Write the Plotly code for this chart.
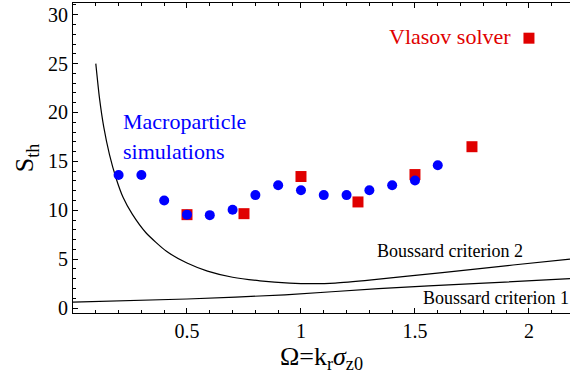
import plotly.graph_objects as go

# Macroparticle simulations (blue circles)
macro_x = [0.2, 0.3, 0.4, 0.5, 0.6, 0.7, 0.8, 0.9, 1.0, 1.1, 1.2, 1.3, 1.4, 1.5, 1.6]
macro_y = [13.6, 13.6, 11.0, 9.55, 9.5, 10.05, 11.55, 12.55, 12.05, 11.55, 11.55, 12.05, 12.55, 13.05, 14.6]

# Vlasov solver (red squares)
vlasov_x = [0.5, 0.75, 1.0, 1.25, 1.5, 1.75]
vlasov_y = [9.55, 9.65, 13.45, 10.85, 13.65, 16.5]

# legend marker for Vlasov solver
vlasov_key_x = [2.0]
vlasov_key_y = [27.6]

# Boussard criterion 2
crit2_x = [0.1, 0.116, 0.135, 0.16, 0.19, 0.22, 0.26, 0.32, 0.41, 0.50, 0.59, 0.70, 0.82, 0.95, 1.05, 1.15, 1.31, 1.62, 1.93, 2.18]
crit2_y = [25.0, 21.5, 18.5, 15.7, 13.2, 11.3, 9.6, 7.7, 5.8, 4.6, 3.78, 3.15, 2.78, 2.55, 2.49, 2.55, 2.88, 3.63, 4.4, 5.0]

# Boussard criterion 1
crit1_x = [0.0, 0.5, 0.93, 1.34, 1.78, 2.18]
crit1_y = [0.6, 0.92, 1.35, 1.98, 2.52, 3.0]

x_ticks = [0.5, 1, 1.5, 2]
x_tick_labels = ["0.5", "1", "1.5", "2"]
y_ticks = [0, 5, 10, 15, 20, 25, 30]

FONT = "Liberation Serif, Times New Roman, serif"
RED = "#e00000"
BLUE = "#0000ff"

fig = go.Figure()
fig.add_trace(go.Scatter(x=crit2_x, y=crit2_y, mode="lines",
                         line=dict(color="black", width=1.2, shape="spline", smoothing=0.6),
                         showlegend=False, hoverinfo="skip"))
fig.add_trace(go.Scatter(x=crit1_x, y=crit1_y, mode="lines",
                         line=dict(color="black", width=1.2, shape="spline", smoothing=0.6),
                         showlegend=False, hoverinfo="skip"))
fig.add_trace(go.Scatter(x=vlasov_x, y=vlasov_y, mode="markers",
                         marker=dict(symbol="square", size=11, color=RED),
                         showlegend=False))
fig.add_trace(go.Scatter(x=macro_x, y=macro_y, mode="markers",
                         marker=dict(symbol="circle", size=10, color=BLUE),
                         showlegend=False))
fig.add_trace(go.Scatter(x=vlasov_key_x, y=vlasov_key_y, mode="markers",
                         marker=dict(symbol="square", size=11, color=RED),
                         showlegend=False))

ann = [
    dict(x=0.212, y=19.1, text="Macroparticle", color=BLUE, size=22),
    dict(x=0.212, y=16.0, text="simulations", color=BLUE, size=22),
    dict(x=1.377, y=27.75, text="Vlasov solver", color=RED, size=22),
    dict(x=1.323, y=5.8, text="Boussard criterion 2", color="black", size=18),
    dict(x=1.527, y=1.02, text="Boussard criterion 1", color="black", size=18),
]
for a in ann:
    fig.add_annotation(x=a["x"], y=a["y"], text=a["text"], showarrow=False,
                       xanchor="left", yanchor="middle",
                       font=dict(family=FONT, size=a["size"], color=a["color"]))

axis_common = dict(showgrid=False, zeroline=False, showline=True, linecolor="black",
                   linewidth=1, ticks="inside", ticklen=5, tickwidth=1, tickcolor="black",
                   automargin=False,
                   tickfont=dict(family=FONT, size=20, color="black"))

fig.update_xaxes(range=[0, 2.18], tickvals=x_ticks, ticktext=x_tick_labels, mirror="ticks",
                 minor=dict(dtick=0.1, tick0=0, ticks="inside", ticklen=3, tickcolor="black"),
                 title=dict(text="Ω=k<sub>r</sub><i>σ</i><sub>z0</sub>",
                            font=dict(family=FONT, size=26, color="black"), standoff=4),
                 **axis_common)
fig.update_yaxes(range=[-0.51, 31.2], tickvals=y_ticks, mirror=False,
                 minor=dict(dtick=1, tick0=0, ticks="inside", ticklen=3, tickcolor="black"),
                 title=dict(text="S<sub>th</sub>",
                            font=dict(family=FONT, size=26, color="black"), standoff=6),
                 **axis_common)

fig.update_layout(width=570, height=380, margin=dict(l=73, r=0, t=3, b=67),
                  plot_bgcolor="white", paper_bgcolor="white", showlegend=False)

fig.write_html("out.html", config={"displayModeBar": False},
               post_script="document.body.style.margin='0';")
